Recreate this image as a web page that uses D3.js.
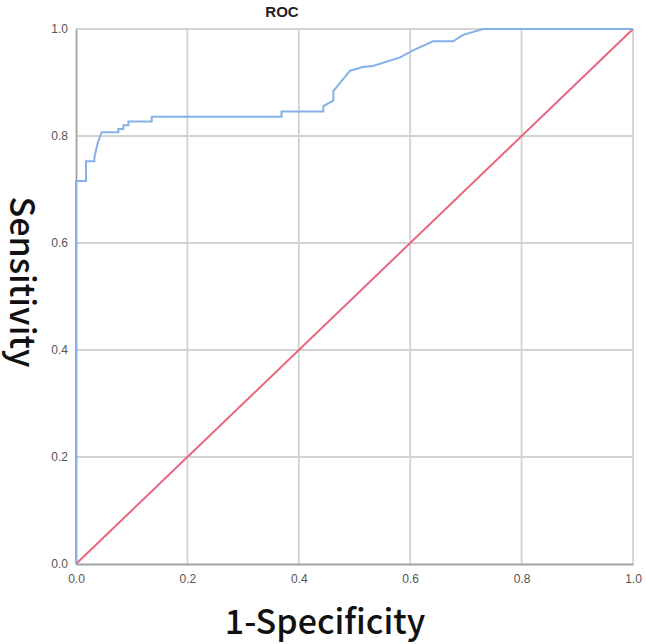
<!DOCTYPE html>
<html>
<head>
<meta charset="utf-8">
<script src="https://cdn.jsdelivr.net/npm/d3@7"></script>
<style>
  body { margin: 0; background: #fff; }
  svg { display: block; }
</style>
</head>
<body>
<svg id="chart" width="646" height="644"></svg>
<script>
// roc curve points
let fprValues = [0, 0, 0.018, 0.018, 0.033, 0.033, 0.039, 0.046, 0.076, 0.076, 0.085, 0.085,
                 0.094, 0.094, 0.136, 0.136, 0.369, 0.369, 0.444, 0.444, 0.462, 0.462,
                 0.492, 0.515, 0.533, 0.582, 0.605, 0.641, 0.677, 0.695, 0.731, 1.0];
let tprValues = [0, 0.716, 0.716, 0.753, 0.753, 0.760, 0.787, 0.807, 0.807, 0.813, 0.813, 0.820,
                 0.820, 0.827, 0.827, 0.836, 0.836, 0.846, 0.846, 0.856, 0.866, 0.884,
                 0.922, 0.929, 0.931, 0.947, 0.960, 0.977, 0.977, 0.989, 1.0, 1.0];
let refLine = [[0, 0], [1, 1]];
let tickValues = [0, 0.2, 0.4, 0.6, 0.8, 1.0];

let params = {
  marginLeft: 76,
  marginTop: 29,
  width: 557,
  height: 535
};

let svg = d3.select('#chart');
let g = svg.append('g')
  .attr('transform', 'translate(' + params.marginLeft + ',' + params.marginTop + ')');

let x = d3.scaleLinear().domain([0, 1]).range([0, params.width]);
let y = d3.scaleLinear().domain([0, 1]).range([params.height, 0]);

// grid
let grid = g.append('g').attr('class', 'grid');
grid.selectAll('.vgrid')
  .data(tickValues.slice(1))
  .enter().append('line')
  .attr('x1', d => x(d)).attr('x2', d => x(d))
  .attr('y1', 0).attr('y2', params.height)
  .attr('stroke', '#d2d2d2').attr('stroke-width', 1.8);
grid.selectAll('.hgrid')
  .data(tickValues.slice(1))
  .enter().append('line')
  .attr('x1', 0).attr('x2', params.width)
  .attr('y1', d => y(d)).attr('y2', d => y(d))
  .attr('stroke', '#d2d2d2').attr('stroke-width', 1.8);

// axes
let xAxis = d3.axisBottom(x).tickValues(tickValues).tickSize(0).tickPadding(10)
  .tickFormat(d3.format('.1f'));
let yAxis = d3.axisLeft(y).tickValues(tickValues).tickSize(0).tickPadding(8)
  .tickFormat(d3.format('.1f'));

let xg = g.append('g').attr('transform', 'translate(0,' + params.height + ')').call(xAxis);
let yg = g.append('g').call(yAxis);
[xg, yg].forEach(function (a) {
  a.select('.domain').attr('stroke', '#a0a0a0').attr('stroke-width', 1.8);
  a.selectAll('text')
    .attr('fill', '#555')
    .style('font-family', 'Liberation Sans, Arial, sans-serif')
    .style('font-size', '12px');
});

// diagonal reference
let line = d3.line().x(d => x(d[0])).y(d => y(d[1]));
g.append('path')
  .datum(refLine)
  .attr('d', line)
  .attr('fill', 'none')
  .attr('stroke', '#e8667e')
  .attr('stroke-width', 2);

// roc curve
let rocData = fprValues.map((f, i) => [f, tprValues[i]]);
g.append('path')
  .datum(rocData)
  .attr('d', line)
  .attr('fill', 'none')
  .attr('stroke', '#86b0e8')
  .attr('stroke-width', 2);

// titles
svg.append('text')
  .attr('x', 282).attr('y', 17)
  .attr('text-anchor', 'middle')
  .style('font-family', 'Liberation Sans, Arial, sans-serif')
  .style('font-weight', 'bold')
  .style('font-size', '15px')
  .attr('fill', '#222')
  .text('ROC');

svg.append('text')
  .attr('x', 325).attr('y', 634)
  .attr('text-anchor', 'middle')
  .style('font-family', 'Noto Sans CJK TC, Noto Sans, sans-serif')
  .style('font-weight', '500')
  .style('font-size', '34px')
  .attr('fill', '#111')
  .text('1-Specificity');

svg.append('text')
  .attr('transform', 'translate(10,282) rotate(90)')
  .attr('text-anchor', 'middle')
  .style('font-family', 'Noto Sans CJK TC, Noto Sans, sans-serif')
  .style('font-weight', '500')
  .style('font-size', '34px')
  .attr('fill', '#111')
  .text('Sensitivity');
</script>
</body>
</html>
